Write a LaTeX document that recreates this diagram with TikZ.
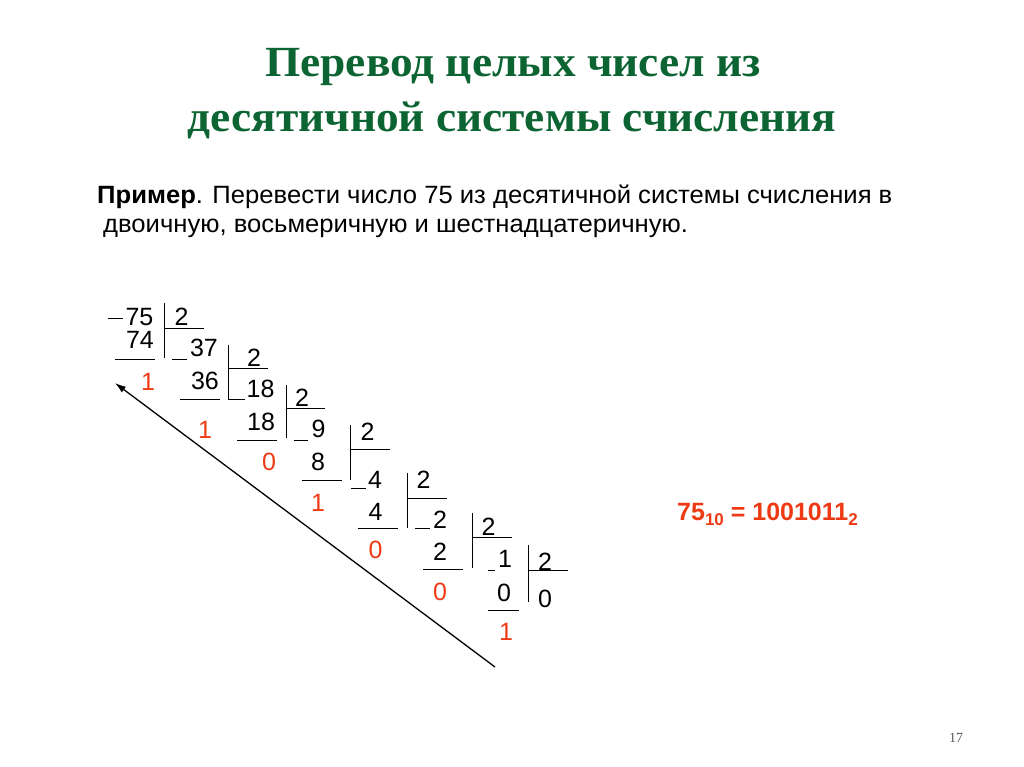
\documentclass[tikz,border=0pt]{standalone}
\usepackage{fontspec}
\setmainfont{Liberation Sans}
\newfontfamily\titlefont[FakeStretch=1.055]{Liberation Serif}
\newfontfamily\bodyfont[FakeStretch=1.025]{Liberation Sans}
\newfontfamily\pagefont{Liberation Serif}
\usetikzlibrary{arrows.meta}
\definecolor{titlegreen}{RGB}{12,100,50}
\definecolor{resred}{RGB}{238,58,20}
\definecolor{pagegray}{RGB}{90,90,90}
\tikzset{
  num/.style={inner sep=0pt, anchor=center, font=\fontsize{25}{25}\selectfont},
  rnum/.style={num, text=resred},
  bar/.style={line width=0.9pt, black},
  ttl/.style={inner sep=0pt, anchor=base, text=titlegreen, font=\titlefont\bfseries\fontsize{43}{43}\selectfont},
  body/.style={inner sep=0pt, anchor=base west, font=\bodyfont\fontsize{25}{25}\selectfont},
}
\begin{document}
\begin{tikzpicture}[x=1pt,y=-1pt]
\useasboundingbox[fill=white] (0,0) rectangle (1024,767);
% title
\node[ttl] (t1) at (513,77) {Перевод целых чисел из};
\node[ttl] (t2) at (512,132) {десятичной системы счисления};
% text
\node[body] (p1) at (97,204) {\textbf{Пример}. Перевести число 75 из десятичной системы счисления в};
\node[body] (p2) at (103,233) {двоичную, восьмеричную и шестнадцатеричную.};
% numbers
\node[num] (n75) at (139.5,317) {75};
\node[num] (d1) at (181.5,317) {2};
\node[num] (s74) at (140,340) {74};
\node[num] (n37) at (204,348) {37};
\node[num] (d2) at (254,358) {2};
\node[num] (s36) at (205,381) {36};
\node[num] (n18) at (260.5,389) {18};
\node[num] (d3) at (302,398) {2};
\node[num] (s18) at (261,422) {18};
\node[num] (n9) at (318.5,429) {9};
\node[num] (d4) at (367.5,432) {2};
\node[num] (s8) at (318,462) {8};
\node[num] (n4) at (375,480) {4};
\node[num] (d5) at (423.5,480) {2};
\node[num] (s4) at (375.5,512) {4};
\node[num] (n2) at (440,520) {2};
\node[num] (d6) at (488.5,527) {2};
\node[num] (s2) at (440,552) {2};
\node[num] (n1) at (505,559) {1};
\node[num] (d7) at (545,562) {2};
\node[num] (s0) at (504,593) {0};
\node[num] (q0) at (545,599) {0};
% remainders
\node[rnum] (r1) at (148,382) {1};
\node[rnum] (r2) at (205,430) {1};
\node[rnum] (r3) at (269,462) {0};
\node[rnum] (r4) at (318,503) {1};
\node[rnum] (r5) at (375.5,550) {0};
\node[rnum] (r6) at (440,592) {0};
\node[rnum] (r7) at (506,632) {1};
% division bars
\draw[bar] (164,303) -- (164,358) (164,328) -- (204,328);
\draw[bar] (228,345) -- (228,399) (228,368) -- (268,368);
\draw[bar] (286,385) -- (286,438) (286,408) -- (325,408);
\draw[bar] (350,425) -- (350,480) (350,449) -- (390,449);
\draw[bar] (407,473) -- (407,528) (407,498) -- (447,498);
\draw[bar] (472,513) -- (472,568) (472,537) -- (512,537);
\draw[bar] (528,545) -- (528,602) (528,570) -- (568,570);
% underlines
\draw[bar] (115,359) -- (155,359);
\draw[bar] (180,399) -- (220,399);
\draw[bar] (237,440) -- (277,440);
\draw[bar] (302,480) -- (342,480);
\draw[bar] (358,528) -- (398,528);
\draw[bar] (423,569) -- (463,569);
\draw[bar] (488,610) -- (519,610);
% minus signs
\draw[bar] (108,318) -- (123,318);
\draw[bar] (172,359) -- (187,359);
\draw[bar] (228,399) -- (245,399);
\draw[bar] (294,440) -- (308,440);
\draw[bar] (351,488) -- (366,488);
\draw[bar] (415,528) -- (430,528);
\draw[bar] (488,570) -- (495,570);
% result
\node[inner sep=0pt, anchor=base west, text=resred, font=\bfseries\fontsize{25}{25}\selectfont] (res) at (677,520)
  {75\raisebox{-5pt}{\fontsize{17}{17}\selectfont 10} = 1001011\raisebox{-5pt}{\fontsize{17}{17}\selectfont 2}};
% arrow
\coordinate (atail) at (495,667);
\coordinate (ahead) at (115,383);
\draw[line width=1.3pt, -{Latex[length=11pt,width=7pt]}] (atail) -- (ahead);
% page number
\node[inner sep=0pt, anchor=base, text=pagegray, font=\pagefont\fontsize{14}{14}\selectfont] (pg) at (956,742) {17};
\end{tikzpicture}
\end{document}
